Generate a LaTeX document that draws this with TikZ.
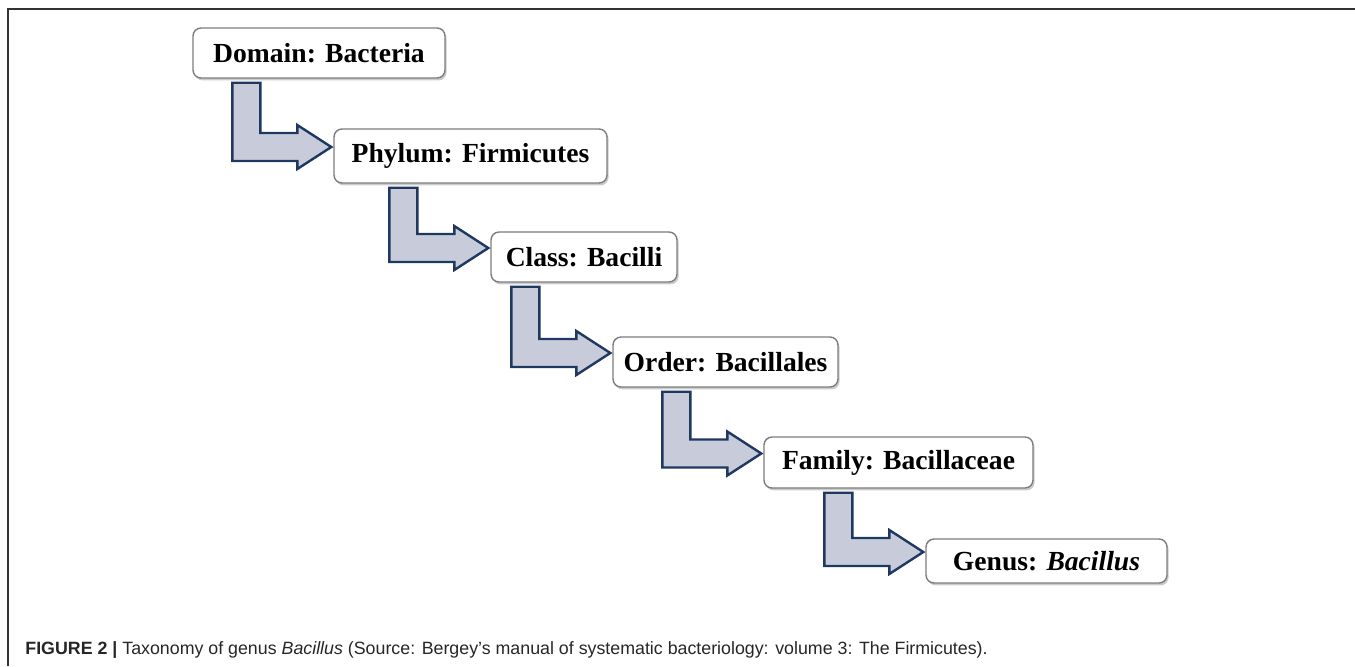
\documentclass[tikz,border=0pt]{standalone}
\usepackage{fontspec}
\setmainfont{Liberation Serif}
\newfontfamily\capfont{Liberation Sans}
\usetikzlibrary{shapes, arrows.meta, positioning, calc, shadows}
\definecolor{colFill}{RGB}{200, 204, 218}
\definecolor{colEdge}{RGB}{31, 56, 96}
\definecolor{colBox}{RGB}{125, 125, 125}

\tikzset{
    taxbox/.style={draw=colBox, line width=0.7pt, fill=white, rounded corners=4pt,
        inner sep=0pt, font=\fontsize{13.8}{16}\selectfont\bfseries,
        drop shadow={shadow xshift=0.8pt, shadow yshift=-1.2pt, fill=black!45, opacity=0.45}},
    bendshape/.style={draw=colEdge, line width=1.2pt, fill=colFill, line join=miter},
    frame/.style={draw=black!80, line width=1pt}
}

% L-shaped block arrow from box #1 down and into box #2
\newcommand{\bentarrow}[2]{%
    \draw[bendshape] let \p1 = ($(#2.west)+(-1pt,4.5pt)$), \p2 = (#1.south) in
        (\x1-49.5pt,\y2-2pt) -- (\x1-35.5pt,\y2-2pt) -- (\x1-35.5pt,\y1+7pt)
        -- (\x1-17pt,\y1+7pt) -- (\x1-17pt,\y1+11pt) -- (\x1,\y1)
        -- (\x1-17pt,\y1-11pt) -- (\x1-17pt,\y1-7pt) -- (\x1-49.5pt,\y1-7pt) -- cycle;}

\begin{document}
\begin{tikzpicture}[x=0.5pt, y=-0.5pt]
    \useasboundingbox (0,0) rectangle (1355,666);

    % Frame (top and left)
    \draw[frame] (8,666) -- (8,9) -- (1355,9);

    % Taxonomy ranks
    \node[taxbox, minimum width=126pt, minimum height=25pt] (dom) at (319,53) {Domain: Bacteria};
    \node[taxbox, minimum width=136.5pt, minimum height=27pt] (phy) at (470.5,156) {Phylum: Firmicutes};
    \node[taxbox, minimum width=93pt, minimum height=25pt] (cls) at (584,257) {Class: Bacilli};
    \node[taxbox, minimum width=112.5pt, minimum height=25pt] (ord) at (725.5,362) {Order: Bacillales};
    \node[taxbox, minimum width=134.5pt, minimum height=25.5pt] (fam) at (898.5,462.5) {Family: Bacillaceae};
    \node[taxbox, minimum width=120.5pt, minimum height=22pt] (gen) at (1046.5,561) {Genus: \textit{Bacillus}};

    % Bent arrows between ranks
    \foreach \a/\b in {dom/phy, phy/cls, cls/ord, ord/fam, fam/gen}
        \bentarrow{\a}{\b};

    % Caption
    \node[anchor=west, inner sep=0pt, text=black!85, font=\capfont\fontsize{8.9}{10}\selectfont] (cap) at (25,650)
        {\textbf{FIGURE 2 |} Taxonomy of genus \textit{Bacillus} (Source: Bergey’s manual of systematic bacteriology: volume 3: The Firmicutes).};
\end{tikzpicture}
\end{document}
